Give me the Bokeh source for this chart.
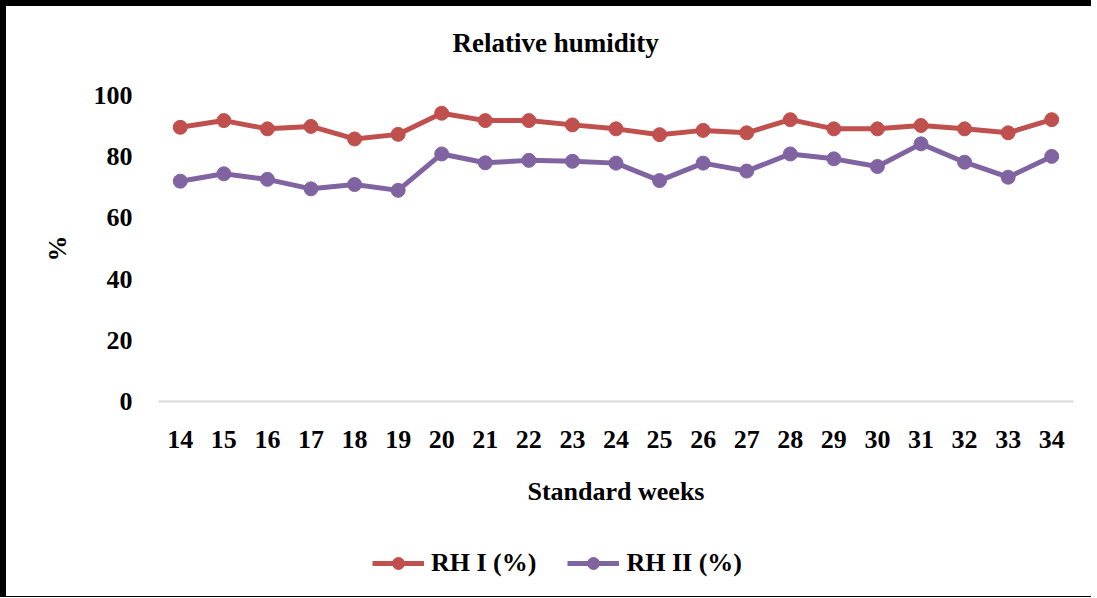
from bokeh.plotting import figure
from bokeh.layouts import column
from bokeh.models import Range1d, FactorRange, Legend, LegendItem, Title
from bokeh.embed import file_html
from bokeh.resources import INLINE

weeks = [str(w) for w in range(14, 35)]
rh1 = [89.6, 91.8, 89.1, 89.9, 85.8, 87.3, 94.2, 91.8, 91.8, 90.4, 89.1,
       87.2, 88.6, 87.8, 92.1, 89.1, 89.1, 90.2, 89.1, 87.8, 92.1]
rh2 = [72.0, 74.4, 72.6, 69.5, 70.9, 69.0, 80.9, 78.0, 78.8, 78.5, 77.9,
       72.2, 77.9, 75.3, 80.9, 79.3, 76.8, 84.2, 78.2, 73.3, 80.1]
y_ticks = [0, 20, 40, 60, 80, 100]
series_names = ["RH I (%)", "RH II (%)"]

RED = "#C0504D"
PURPLE = "#8064A2"
FONT = "Liberation Serif"

W, H1, H2 = 1091, 526, 71
p = figure(x_range=FactorRange(*weeks), y_range=Range1d(0, 100),
           width=W, height=H1, output_backend="svg", toolbar_location=None,
           min_border_left=152, min_border_right=24,
           min_border_top=89, min_border_bottom=131)
p.outline_line_color = None
p.xgrid.grid_line_color = None
p.ygrid.grid_line_color = None
p.styles = {"border-top": "6px solid black", "border-left": "6px solid black"}

p.line(weeks, rh1, line_color=RED, line_width=5)
p.scatter(weeks, rh1, size=14, fill_color=RED, line_color=RED)
p.line(weeks, rh2, line_color=PURPLE, line_width=5)
p.scatter(weeks, rh2, size=14, fill_color=PURPLE, line_color=PURPLE)

for ax in (p.xaxis[0], p.yaxis[0]):
    ax.major_label_text_font = FONT
    ax.major_label_text_font_style = "bold"
    ax.major_label_text_font_size = "26px"
    ax.major_label_text_color = "black"
    ax.axis_label_text_font = FONT
    ax.axis_label_text_font_style = "bold"
    ax.axis_label_text_font_size = "26px"
    ax.axis_label_text_color = "black"
    ax.major_tick_line_color = None
    ax.minor_tick_line_color = None

p.yaxis.ticker = y_ticks
p.yaxis.axis_line_color = None
p.yaxis.major_label_standoff = 20
p.yaxis.axis_label = "%"
p.yaxis.axis_label_standoff = 19

p.xaxis.axis_line_color = "#d9d9d9"
p.xaxis.axis_line_width = 2
p.xaxis.major_label_standoff = 23
p.xaxis.axis_label = "Standard weeks"
p.xaxis.axis_label_standoff = 26
p.xaxis.major_label_orientation = "horizontal"

# small empty spacer between frame and title (keeps title higher)
p.add_layout(Title(text=" ", text_font_size="1px", standoff=34), "above")
p.title = Title(text="Relative humidity", align="left", offset=294,
                text_font=FONT, text_font_style="bold", text_font_size="27px",
                text_color="black", standoff=2)

# legend strip below the chart
lg = figure(width=W, height=H2, x_range=FactorRange(*weeks),
            y_range=Range1d(1000, 1100),
            x_axis_type=None, y_axis_type=None, min_border=0,
            output_backend="svg", toolbar_location=None)
lg.outline_line_color = None
lg.xgrid.grid_line_color = None
lg.ygrid.grid_line_color = None
lg.styles = {"border-left": "6px solid black", "border-bottom": "1px solid black"}
l1 = lg.line(weeks, rh1, line_color=RED, line_width=5)
s1 = lg.scatter(weeks, rh1, size=14, fill_color=RED, line_color=RED)
l2 = lg.line(weeks, rh2, line_color=PURPLE, line_width=5)
s2 = lg.scatter(weeks, rh2, size=14, fill_color=PURPLE, line_color=PURPLE)

legend = Legend(items=[LegendItem(label=series_names[0], renderers=[l1, s1]),
                       LegendItem(label=series_names[1], renderers=[l2, s2])],
                orientation="horizontal", location=(214, 19),
                glyph_width=52, glyph_height=30, label_standoff=7, spacing=31,
                padding=0, margin=0, border_line_color=None,
                background_fill_alpha=0,
                label_text_font=FONT, label_text_font_style="bold",
                label_text_font_size="26px", label_text_color="black")
lg.add_layout(legend, "center")

layout = column(p, lg, spacing=0)
open("out.html", "w").write(file_html(layout, INLINE))
